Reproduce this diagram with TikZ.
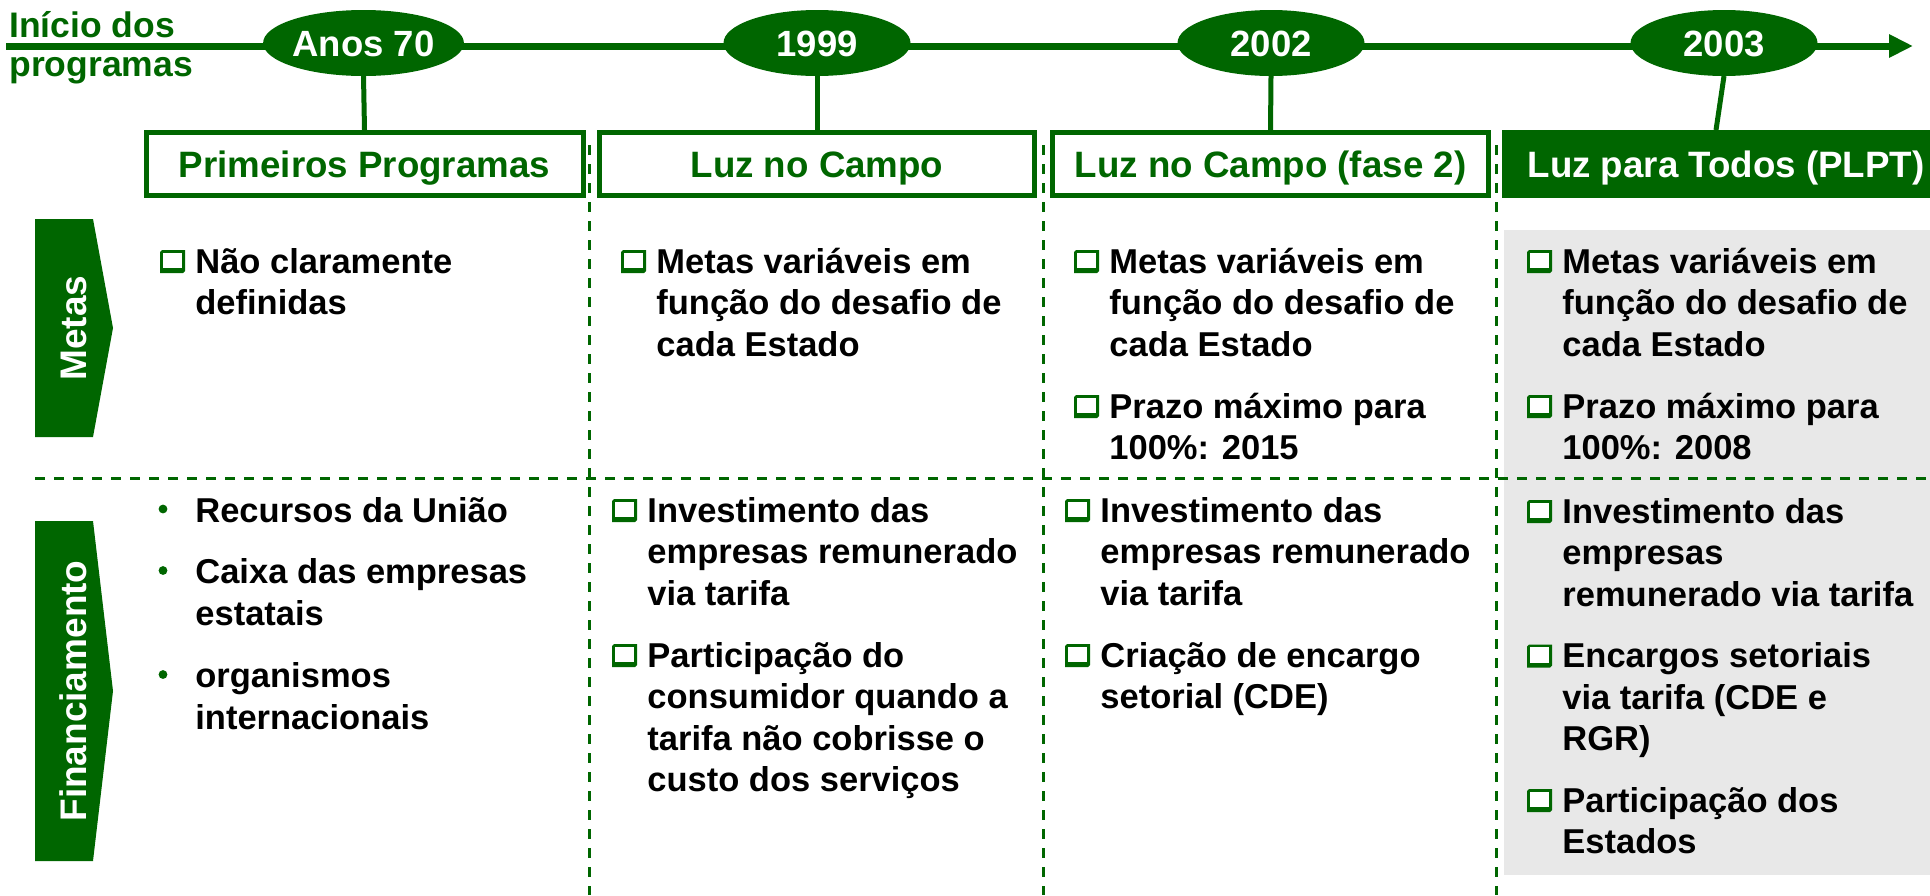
\documentclass[tikz,border=0pt]{standalone}
\usepackage{fontspec}
\setmainfont{Liberation Sans}
\usetikzlibrary{arrows.meta,shapes.geometric}
\definecolor{dgreen}{RGB}{0,102,0}
\definecolor{lgray}{RGB}{232,232,232}
\newcommand{\txtlines}[1]{\begin{tabular}[t]{@{}l@{}}#1\end{tabular}}
\tikzset{
  cbox/.pic={
    \fill[dgreen] (-33,-23) -- (-10,-23) -- (-10,-2) -- (-12,0) -- (-35,0) -- (-35,-21) -- cycle;
    \fill[white] (-32,-20.5) rectangle (-13,-5);
  },
  hdr/.style={draw=dgreen,line width=2.5pt,fill=white,minimum height=31.5pt,inner sep=0pt,text=dgreen,
    font=\fontsize{18.35pt}{22pt}\selectfont\bfseries,text height=13.1pt,text depth=0pt},
  hdrf/.style={fill=dgreen,minimum height=34pt,minimum width=214pt,inner sep=0pt,outer sep=0pt,text=white,
    font=\fontsize{18.35pt}{22pt}\selectfont\bfseries,text height=13.1pt,text depth=0pt},
  yr/.style={ellipse,fill=dgreen,minimum width=93.5pt,minimum height=33pt,inner sep=0pt,outer sep=0pt,text=white,
    font=\fontsize{18.25pt}{20pt}\selectfont\bfseries,text height=13pt,text depth=0pt},
  lbl/.style={rotate=90,text=white,font=\fontsize{18.5pt}{20pt}\selectfont\bfseries,inner sep=0pt,
    text height=13.2pt,text depth=0pt},
  itm/.style={anchor=base west,inner sep=0pt,font=\fontsize{17.25pt}{20.75pt}\selectfont\bfseries},
  ttl/.style={anchor=base west,inner sep=0pt,text=dgreen,font=\fontsize{17.75pt}{19.5pt}\selectfont\bfseries},
  conn/.style={dgreen,line width=2.5pt},
  tline/.style={dgreen,line width=3.5pt,-{Triangle[length=12pt,width=11pt]}},
  dsh/.style={dgreen,line width=1.5pt,dash pattern=on 5pt off 4.5pt},
}
\begin{document}
\begin{tikzpicture}[x=0.5pt,y=-0.5pt]
\useasboundingbox (0,0) rectangle (1930,895);
% grey background of last column
\fill[lgray] (1504,230) rectangle (1930,875);
% dividers
\draw[dsh] (589,145) -- (589,895);
\draw[dsh] (1043,145) -- (1043,895);
\draw[dsh] (1496,145) -- (1496,895);
\draw[dsh] (35,478) -- (1930,478);
% timeline
\coordinate (ts) at (6,46);
\coordinate (te) at (1913,46);
\draw[tline] (ts) -- (te);
\node[ttl] (ttl) at (9,37) {\txtlines{Início dos\\programas}};
% years
\node[yr] (e1) at (363.5,43) {Anos 70};
\node[yr] (e2) at (817,43) {1999};
\node[yr] (e3) at (1271,43) {2002};
\node[yr] (e4) at (1724,43) {2003};
% program boxes
\node[hdr,minimum width=218.5pt] (b1) at (364.5,164) {Primeiros Programas};
\node[hdr,minimum width=217.5pt] (b2) at (817,164) {Luz no Campo};
\node[hdr,minimum width=218pt] (b3) at (1270.5,164) {Luz no Campo (fase 2)};
\node[hdrf] (b4) at (1716,164) {\hspace*{10pt}Luz para Todos (PLPT)};
\draw[conn] (e1.south) -- (b1.north);
\draw[conn] (e2.south) -- (b2.north);
\draw[conn] (e3.south) -- (b3.north);
\draw[conn] (e4.south) -- (b4.north);
% row labels
\fill[dgreen] (35,219) -- (93,219) -- (113,328) -- (93,437) -- (35,437) -- cycle;
\node[lbl] (lm) at (73,328) {Metas};
\fill[dgreen] (35,521) -- (93,521) -- (113,691) -- (93,861) -- (35,861) -- cycle;
\node[lbl] (lf) at (73,691) {Financiamento};
% Metas row
\node[itm] (m1a) at (195,273) {\txtlines{Não claramente\\definidas}};
\pic at (m1a.base west) {cbox};
\node[itm] (m2a) at (656,273) {\txtlines{Metas variáveis em\\função do desafio de\\cada Estado}};
\pic at (m2a.base west) {cbox};
\node[itm] (m3a) at (1109,273) {\txtlines{Metas variáveis em\\função do desafio de\\cada Estado}};
\pic at (m3a.base west) {cbox};
\node[itm] (m3b) at (1109,418) {\txtlines{Prazo máximo para\\100\%: 2015}};
\pic at (m3b.base west) {cbox};
\node[itm] (m4a) at (1562,273) {\txtlines{Metas variáveis em\\função do desafio de\\cada Estado}};
\pic at (m4a.base west) {cbox};
\node[itm] (m4b) at (1562,418) {\txtlines{Prazo máximo para\\100\%: 2008}};
\pic at (m4b.base west) {cbox};
% Financiamento row
\node[itm] (f1a) at (195,522) {\txtlines{Recursos da União}};
\fill[dgreen] ([shift={(-32,-13)}]f1a.base west) circle (2.2pt);
\node[itm] (f1b) at (195,583.5) {\txtlines{Caixa das empresas\\estatais}};
\fill[dgreen] ([shift={(-32,-13)}]f1b.base west) circle (2.2pt);
\node[itm] (f1c) at (195,687.5) {\txtlines{organismos\\internacionais}};
\fill[dgreen] ([shift={(-32,-13)}]f1c.base west) circle (2.2pt);
\node[itm] (f2a) at (647,522) {\txtlines{Investimento das\\empresas remunerado\\via tarifa}};
\pic at (f2a.base west) {cbox};
\node[itm] (f2b) at (647,667) {\txtlines{Participação do\\consumidor quando a\\tarifa não cobrisse o\\custo dos serviços}};
\pic at (f2b.base west) {cbox};
\node[itm] (f3a) at (1100,522) {\txtlines{Investimento das\\empresas remunerado\\via tarifa}};
\pic at (f3a.base west) {cbox};
\node[itm] (f3b) at (1100,667) {\txtlines{Criação de encargo\\setorial (CDE)}};
\pic at (f3b.base west) {cbox};
\node[itm] (f4a) at (1562,523) {\txtlines{Investimento das\\empresas\\remunerado via tarifa}};
\pic at (f4a.base west) {cbox};
\node[itm] (f4b) at (1562,667.5) {\txtlines{Encargos setoriais\\via tarifa (CDE e\\RGR)}};
\pic at (f4b.base west) {cbox};
\node[itm] (f4c) at (1562,812) {\txtlines{Participação dos\\Estados}};
\pic at (f4c.base west) {cbox};
\end{tikzpicture}
\end{document}
